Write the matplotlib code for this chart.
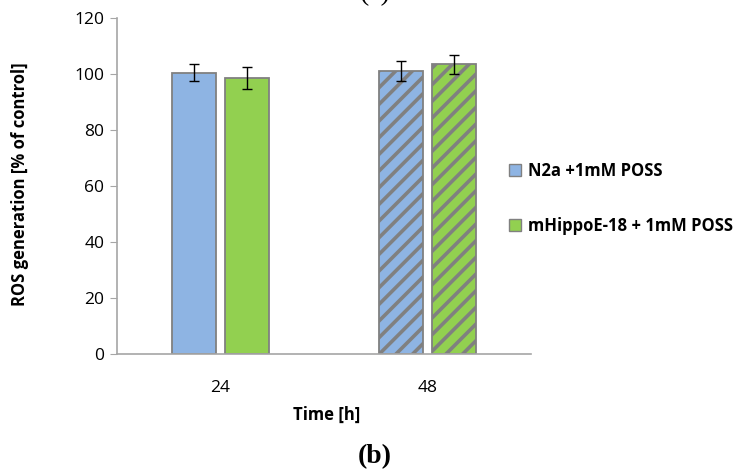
import numpy as np
import matplotlib
matplotlib.use("Agg")
import matplotlib.pyplot as plt
from matplotlib.patches import Patch

# data
times = ["24", "48"]
n2a = [100.5, 101.0]
n2a_err = [3.0, 3.5]
hippo = [98.7, 103.4]
hippo_err = [3.9, 3.4]
series_names = ["N2a +1mM POSS", "mHippoE-18 + 1mM POSS"]

blue, green, edge = "#8EB4E3", "#92D050", "#808080"

plt.rcParams['font.family'] = ['Open Sans', 'DejaVu Sans']
plt.rcParams['hatch.linewidth'] = 2.6
plt.rcParams['hatch.color'] = edge

fig = plt.figure(figsize=(7.39, 4.74), dpi=100)
ax = fig.add_axes([117/739, 1 - 354/474, 414/739, 336/474])

x = np.arange(len(times))
w, off = 0.215, 0.128
hatches = ['', '//']
for i in range(len(times)):
    ax.bar(x[i] - off, n2a[i], w, color=blue, edgecolor=edge, linewidth=1.3,
           hatch=hatches[i], zorder=2)
    ax.bar(x[i] + off, hippo[i], w, color=green, edgecolor=edge, linewidth=1.3,
           hatch=hatches[i], zorder=2)
ax.errorbar(x - off, n2a, yerr=n2a_err, fmt='none', ecolor='black',
            elinewidth=1, capsize=3.5, capthick=1, zorder=3)
ax.errorbar(x + off, hippo, yerr=hippo_err, fmt='none', ecolor='black',
            elinewidth=1, capsize=3.5, capthick=1, zorder=3)

ax.set_xlim(-0.5, 1.5)
ax.set_ylim(0, 120)
ax.set_yticks(range(0, 121, 20))
ax.set_xticks(x)
ax.set_xticklabels(times)
ax.tick_params(axis='y', length=5, color='#A6A6A6', labelsize=12.5, pad=4)
ax.tick_params(axis='x', length=0, labelsize=12.5, pad=19)
for s in ['top', 'right']:
    ax.spines[s].set_visible(False)
for s in ['left', 'bottom']:
    ax.spines[s].set_color('#A6A6A6')
    ax.spines[s].set_linewidth(1.2)

fig.text(20/739, 1 - 184/474, "ROS generation [% of control]", rotation=90,
         ha='center', va='center', fontsize=12, fontweight='bold')
fig.text(327/739, 1 - 415/474, "Time [h]", ha='center', va='center',
         fontsize=12, fontweight='bold')
fig.text(375/739, 1 - 457/474, "(b)", ha='center', va='center',
         fontsize=20, fontweight='bold', family='Liberation Serif')
fig.text(375/739, 1 - 6/474, "(a)", ha='center', va='bottom',
         fontsize=20, family='Liberation Serif')

handles = [Patch(facecolor=blue, edgecolor=edge), Patch(facecolor=green, edgecolor=edge)]
leg = fig.legend(handles, series_names, loc='upper left',
                 bbox_to_anchor=(494/739, 1 - 147/474), frameon=False,
                 handlelength=0.7, handleheight=0.7, handletextpad=0.45,
                 labelspacing=2.2, prop={'weight': 'bold', 'size': 12})

fig.savefig("out.png", dpi=100)
